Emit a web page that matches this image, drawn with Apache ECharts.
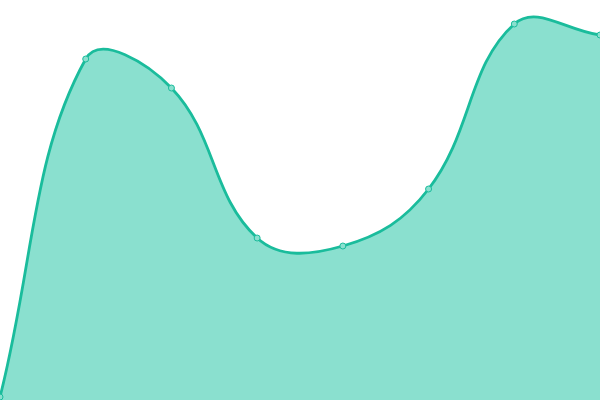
<!DOCTYPE html>
<html><head><meta charset="utf-8">
<script src="https://cdn.jsdelivr.net/npm/echarts@6/dist/echarts.min.js"></script>
<style>html,body{margin:0;padding:0;background:#fff}#c{width:600px;height:400px}</style>
</head><body><div id="c"></div>
<script>
const categories = ['1','2','3','4','5','6','7','8'];
const values = [3, 341, 312, 162, 154, 211, 376, 365];
const LINE = '#1abc9c';
const FILL = '#8ae0cf';
const TENSION = 0.4;

function splinePath(pts, bottomY) {
  const n = pts.length;
  const cps = pts.map((cur, i) => {
    const prev = pts[Math.max(0, i - 1)];
    const next = pts[Math.min(n - 1, i + 1)];
    const d01 = Math.hypot(cur[0] - prev[0], cur[1] - prev[1]);
    const d12 = Math.hypot(next[0] - cur[0], next[1] - cur[1]);
    let s01 = d01 / (d01 + d12), s12 = d12 / (d01 + d12);
    if (isNaN(s01)) s01 = 0; if (isNaN(s12)) s12 = 0;
    const fa = TENSION * s01, fb = TENSION * s12;
    return {
      prev: [cur[0] - fa * (next[0] - prev[0]), cur[1] - fa * (next[1] - prev[1])],
      next: [cur[0] + fb * (next[0] - prev[0]), cur[1] + fb * (next[1] - prev[1])]
    };
  });
  let d = 'M' + pts[0][0] + ' ' + pts[0][1];
  for (let i = 1; i < n; i++) {
    const a = cps[i - 1].next, b = cps[i].prev, p = pts[i];
    d += ' C' + a[0] + ' ' + a[1] + ' ' + b[0] + ' ' + b[1] + ' ' + p[0] + ' ' + p[1];
  }
  const area = d + ' L' + pts[n - 1][0] + ' ' + bottomY + ' L' + pts[0][0] + ' ' + bottomY + ' Z';
  return {line: d, area};
}

const chart = echarts.init(document.getElementById('c'));
chart.setOption({
  animation: false,
  grid: {left: 0, right: 0, top: 0, bottom: 0},
  xAxis: {type: 'category', data: categories, boundaryGap: false, show: false},
  yAxis: {type: 'value', min: 0, max: 400, show: false},
  series: [{
    type: 'custom',
    data: values.map((v, i) => [i, v]),
    z: 1,
    renderItem: function (params, api) {
      if (params.dataIndex !== 0) return null;
      const pts = values.map((v, i) => api.coord([i, v]));
      const bottom = api.coord([0, 0])[1];
      const p = splinePath(pts, bottom);
      return {
        type: 'group',
        children: [
          {type: 'path', shape: {pathData: p.area}, style: {fill: FILL, stroke: null}},
          {type: 'path', shape: {pathData: p.line}, style: {fill: null, stroke: LINE, lineWidth: 2.8}}
        ]
      };
    }
  }, {
    type: 'line', data: values, z: 3,
    symbol: 'circle', symbolSize: 6, showSymbol: true,
    lineStyle: {width: 0, opacity: 0},
    itemStyle: {color: FILL, borderColor: LINE, borderWidth: 1}
  }]
});
</script></body></html>
